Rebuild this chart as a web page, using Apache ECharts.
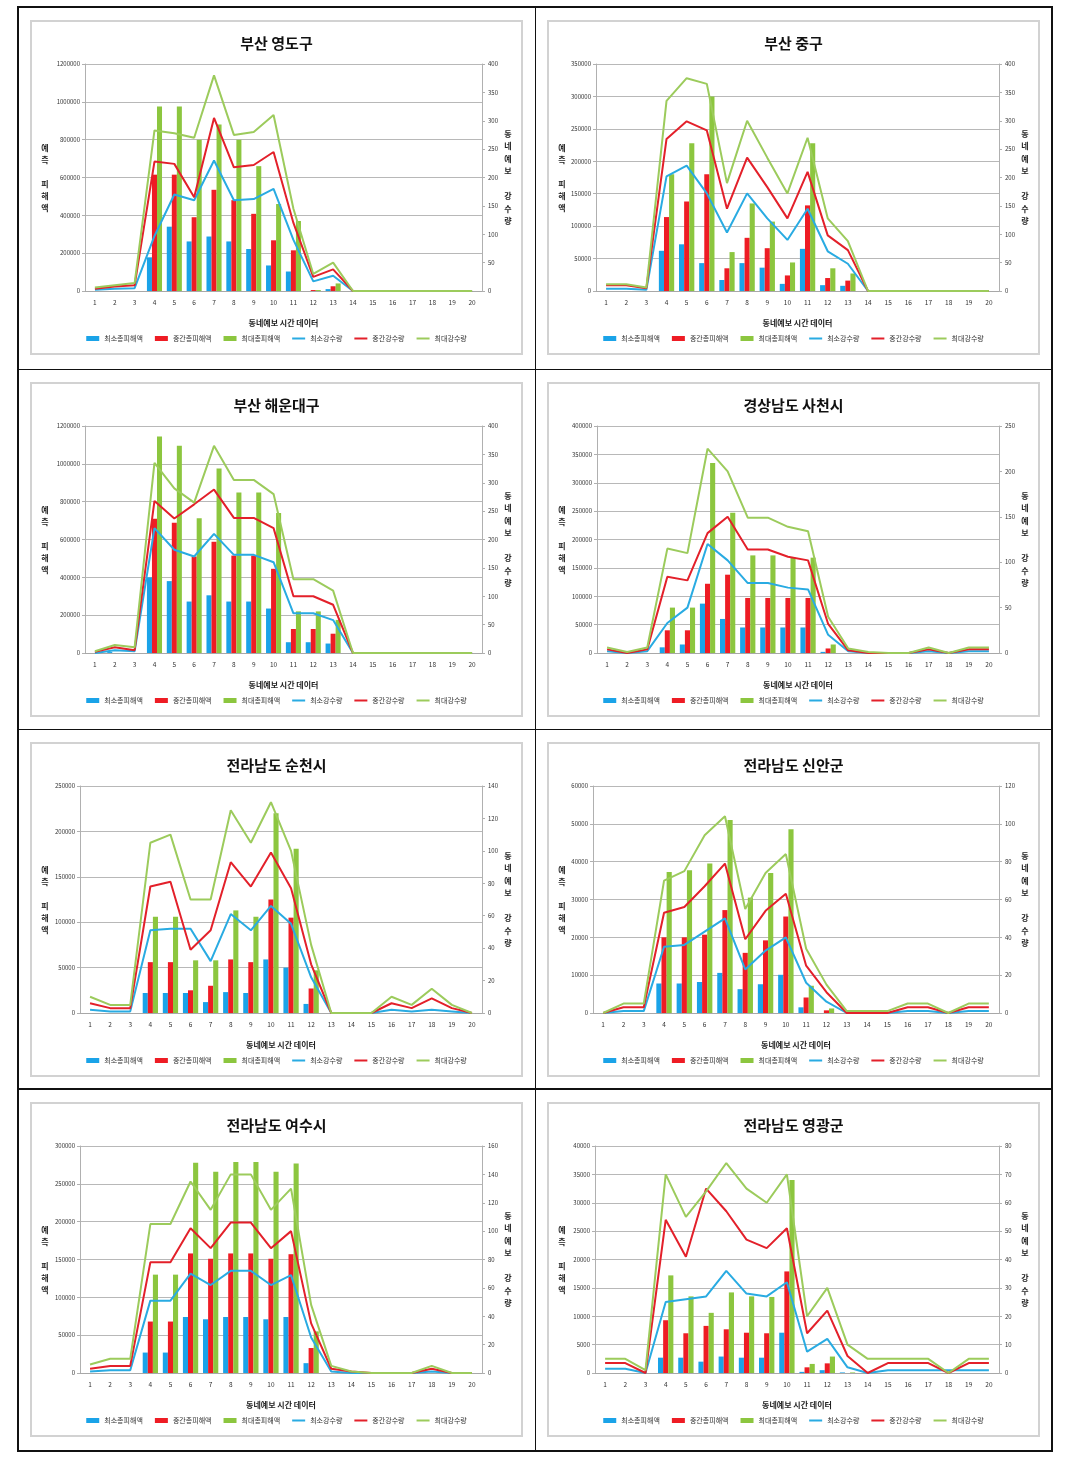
<!DOCTYPE html>
<html>
<head>
<meta charset="utf-8">
<script src="https://cdn.jsdelivr.net/npm/echarts/dist/echarts.min.js"></script>
<style>
  html, body { margin: 0; padding: 0; background: #fff; }
  body { width: 1070px; height: 1464px; position: relative; overflow: hidden; font-family: 'Noto Sans CJK KR', sans-serif; }
  .line { position: absolute; background: #111; }
  .frame { position: absolute; box-sizing: border-box; border: 2px solid #d2d2d2; }
  .chart { position: absolute; }
</style>
</head>
<body>
<div class="line" style="left:17px;top:6px;width:1036px;height:1.5px"></div>
<div class="line" style="left:17px;top:1450px;width:1036px;height:1.5px"></div>
<div class="line" style="left:17px;top:6px;width:1.5px;height:1445px"></div>
<div class="line" style="left:1051px;top:6px;width:1.5px;height:1445px"></div>
<div class="line" style="left:534.5px;top:6px;width:1.5px;height:1445px"></div>
<div class="line" style="left:17px;top:368.5px;width:1036px;height:1.5px"></div>
<div class="line" style="left:17px;top:728.5px;width:1036px;height:1.5px"></div>
<div class="line" style="left:17px;top:1088px;width:1036px;height:1.5px"></div>
<script>
// ---------- shared labels ----------
const categories = ['1','2','3','4','5','6','7','8','9','10','11','12','13','14','15','16','17','18','19','20'];
const seriesNames = ['최소총피해액','중간총피해액','최대총피해액','최소강수량','중간강수량','최대강수량'];
const xAxisTitle = '동네예보 시간 데이터';
const leftAxisTitle = '예\n측\n\n피\n해\n액';
const rightAxisTitle = '동\n네\n예\n보\n\n강\n수\n량';

// ---------- 부산 영도구 ----------
const yeongdoMinDamage = [0,0,0,178000,340000,262000,288000,262000,222000,135000,103000,0,10000,0,0,0,0,0,0,0];
const yeongdoMidDamage = [0,0,0,615000,615000,390000,535000,480000,408000,268000,215000,5000,25000,0,0,0,0,0,0,0];
const yeongdoMaxDamage = [0,0,0,975000,975000,800000,880000,800000,660000,460000,370000,5000,40000,0,0,0,0,0,0,0];
const yeongdoMinRain = [2,4,5,97,170,160,230,160,162,180,90,17,27,0,0,0,0,0,0,0];
const yeongdoMidRain = [4,8,10,228,224,165,305,218,222,245,120,25,38,0,0,0,0,0,0,0];
const yeongdoMaxRain = [6,10,14,283,278,270,380,275,280,310,145,30,50,0,0,0,0,0,0,0];

// ---------- 부산 중구 ----------
const jungguMinDamage = [0,0,0,62000,72000,43000,17000,43000,36000,11000,65000,9000,8000,0,0,0,0,0,0,0];
const jungguMidDamage = [0,0,0,114000,138000,180000,35000,82000,66000,24000,132000,20000,16000,0,0,0,0,0,0,0];
const jungguMaxDamage = [0,0,0,180000,228000,300000,60000,135000,107000,44000,228000,35000,27000,0,0,0,0,0,0,0];
const jungguMinRain = [4,4,2,202,221,172,103,172,128,90,145,70,48,0,0,0,0,0,0,0];
const jungguMidRain = [10,10,5,268,299,283,145,235,183,128,210,98,72,0,0,0,0,0,0,0];
const jungguMaxRain = [12,12,6,335,375,365,190,300,235,172,270,128,88,0,0,0,0,0,0,0];

// ---------- 부산 해운대구 ----------
const haeundaeMinDamage = [0,5000,0,400000,380000,272000,305000,272000,272000,235000,57000,57000,50000,0,0,0,0,0,0,0];
const haeundaeMidDamage = [0,0,0,710000,688000,510000,588000,515000,515000,445000,127000,127000,102000,0,0,0,0,0,0,0];
const haeundaeMaxDamage = [0,0,0,1145000,1095000,712000,975000,848000,848000,740000,220000,220000,175000,0,0,0,0,0,0,0];
const haeundaeMinRain = [0,5,3,220,182,170,210,173,173,160,70,70,58,0,0,0,0,0,0,0];
const haeundaeMidRain = [2,10,5,268,237,262,288,238,238,220,100,100,85,0,0,0,0,0,0,0];
const haeundaeMaxRain = [3,14,10,335,290,265,365,305,305,280,130,130,110,0,0,0,0,0,0,0];

// ---------- 경상남도 사천시 ----------
const sacheonMinDamage = [0,0,0,10000,15000,87000,60000,45000,45000,45000,45000,2000,0,0,0,0,0,0,0,0];
const sacheonMidDamage = [0,0,0,40000,40000,122000,138000,97000,97000,97000,97000,8000,0,0,0,0,0,0,0,0];
const sacheonMaxDamage = [0,0,0,80000,80000,335000,247000,172000,172000,168000,168000,15000,0,0,0,0,0,0,0,0];
const sacheonMinRain = [2,0,2,33,50,120,102,77,77,72,70,20,2,0,0,0,2,0,2,2];
const sacheonMidRain = [4,0,4,84,80,132,150,114,114,106,102,32,3,0,0,0,4,0,4,4];
const sacheonMaxRain = [6,1,6,115,110,225,200,149,149,139,134,40,5,1,0,0,6,0,6,6];

// ---------- 전라남도 순천시 ----------
const suncheonMinDamage = [0,0,0,22000,22000,22000,12000,23000,22000,59000,50000,10000,0,0,0,0,0,0,0,0];
const suncheonMidDamage = [0,0,0,56000,56000,25000,30000,59000,56000,125000,105000,27000,0,0,0,0,0,0,0,0];
const suncheonMaxDamage = [0,0,0,106000,106000,58000,58000,113000,106000,220000,181000,47000,0,0,0,0,0,0,0,0];
const suncheonMinRain = [2,1,1,51,52,52,32,61,51,66,55,22,0,0,0,2,1,2,1,0];
const suncheonMidRain = [6,3,3,78,81,39,51,93,78,99,77,30,0,0,0,6,3,9,3,0];
const suncheonMaxRain = [10,5,5,105,110,70,70,125,105,130,100,42,0,0,0,10,5,15,5,0];

// ---------- 전라남도 신안군 ----------
const sinanMinDamage = [0,0,0,7800,7800,8200,10600,6300,7600,10100,1500,0,0,0,0,0,0,0,0,0];
const sinanMidDamage = [0,0,0,20000,20000,20700,27200,15900,19200,25500,4100,700,0,0,0,0,0,0,0,0];
const sinanMaxDamage = [0,0,0,37300,37700,39500,51000,30500,37000,48600,7200,1200,0,0,0,0,0,0,0,0];
const sinanMinRain = [0,1,1,35,36,43,50,23,33,40,16,6,0,0,0,1,1,0,1,1];
const sinanMidRain = [0,3,3,53,56,67,79,39,54,63,25,11,0,0,0,3,3,0,3,3];
const sinanMaxRain = [0,5,5,70,75,94,104,55,74,84,34,15,1,1,1,5,5,0,5,5];

// ---------- 전라남도 여수시 ----------
const yeosuMinDamage = [0,0,0,27000,27000,74000,71000,74000,74000,71000,74000,13000,0,0,0,0,0,0,0,0];
const yeosuMidDamage = [0,0,0,68000,68000,158000,151000,158000,158000,151000,157000,33000,0,0,0,0,0,0,0,0];
const yeosuMaxDamage = [0,0,0,130000,130000,278000,266000,279000,279000,266000,277000,55000,0,0,0,0,0,0,0,0];
const yeosuMinRain = [1,2,2,51,51,70,62,72,72,62,69,25,1,0,0,0,0,1,0,0];
const yeosuMidRain = [3,5,5,78,78,102,88,106,106,88,100,35,3,1,0,0,0,3,0,0];
const yeosuMaxRain = [6,10,10,105,105,135,115,140,140,115,130,48,5,1,0,0,0,5,0,0];

// ---------- 전라남도 영광군 ----------
const yeonggwangMinDamage = [0,0,0,2700,2700,2000,2900,2700,2700,7100,200,500,100,0,0,0,0,0,0,0];
const yeonggwangMidDamage = [0,0,0,9300,7000,8300,7700,7100,7000,17900,1000,1700,0,0,0,0,0,0,0,0];
const yeonggwangMaxDamage = [0,0,0,17200,13500,10600,14200,13500,13400,34000,1600,2900,100,0,0,0,0,0,0,0];
const yeonggwangMinRain = [1.5,1.5,0,25,26,27,36,28,27,32,7.5,12,2,0,1,1,1,1,1,1];
const yeonggwangMidRain = [3.5,3.5,0,54,41,65,57,47,44,51,14,22,6,0,3.5,3.5,3.5,0,3.5,3.5];
const yeonggwangMaxRain = [5,5,1,70,55,64,74,65,60,70,20,30,10,5,5,5,5,0,5,5];

// ---------- panel list (built from the arrays above) ----------
const panels = [
  { title: '부산 영도구', lMax: 1200000, lInt: 200000, rMax: 400, rInt: 50, gl: 55,
    data: [yeongdoMinDamage, yeongdoMidDamage, yeongdoMaxDamage, yeongdoMinRain, yeongdoMidRain, yeongdoMaxRain] },
  { title: '부산 중구', lMax: 350000, lInt: 50000, rMax: 400, rInt: 50, gl: 49,
    data: [jungguMinDamage, jungguMidDamage, jungguMaxDamage, jungguMinRain, jungguMidRain, jungguMaxRain] },
  { title: '부산 해운대구', lMax: 1200000, lInt: 200000, rMax: 400, rInt: 50, gl: 55,
    data: [haeundaeMinDamage, haeundaeMidDamage, haeundaeMaxDamage, haeundaeMinRain, haeundaeMidRain, haeundaeMaxRain] },
  { title: '경상남도 사천시', lMax: 400000, lInt: 50000, rMax: 250, rInt: 50, gl: 50,
    data: [sacheonMinDamage, sacheonMidDamage, sacheonMaxDamage, sacheonMinRain, sacheonMidRain, sacheonMaxRain] },
  { title: '전라남도 순천시', lMax: 250000, lInt: 50000, rMax: 140, rInt: 20, gl: 50,
    data: [suncheonMinDamage, suncheonMidDamage, suncheonMaxDamage, suncheonMinRain, suncheonMidRain, suncheonMaxRain] },
  { title: '전라남도 신안군', lMax: 60000, lInt: 10000, rMax: 120, rInt: 20, gl: 46,
    data: [sinanMinDamage, sinanMidDamage, sinanMaxDamage, sinanMinRain, sinanMidRain, sinanMaxRain] },
  { title: '전라남도 여수시', lMax: 300000, lInt: 50000, rMax: 160, rInt: 20, gl: 50,
    data: [yeosuMinDamage, yeosuMidDamage, yeosuMaxDamage, yeosuMinRain, yeosuMidRain, yeosuMaxRain] },
  { title: '전라남도 영광군', lMax: 40000, lInt: 5000, rMax: 80, rInt: 10, gl: 48,
    data: [yeonggwangMinDamage, yeonggwangMidDamage, yeonggwangMaxDamage, yeonggwangMinRain, yeonggwangMidRain, yeonggwangMaxRain] }
];

const barColors = ['#1aa3e8', '#ee1c24', '#8cc63f'];
const lineColors = ['#29abe2', '#e3202a', '#9ccb5c'];
const FONT = "'Noto Sans CJK KR', 'Noto Sans', sans-serif";
const colLeft = [30, 547];
const rowTop = [20, 382, 742, 1102];
const W = 493, H = 335;
const GRID_TOP = 44, GRID_BOTTOM = 64, GRID_RIGHT = 41;
const LINE_ICON = 'path://M0,0H13V2H0Z';
const plainNumber = v => String(v);

panels.forEach((p, i) => {
  const x = colLeft[i % 2], y = rowTop[Math.floor(i / 2)];
  const frame = document.createElement('div');
  frame.className = 'frame';
  frame.style.cssText = `left:${x}px;top:${y}px;width:${W}px;height:${H}px;`;
  document.body.appendChild(frame);
  const el = document.createElement('div');
  el.className = 'chart';
  el.style.cssText = `left:${x}px;top:${y}px;width:${W}px;height:${H}px;`;
  document.body.appendChild(el);
  const chart = echarts.init(el, null, { renderer: 'canvas' });

  const plotMid = GRID_TOP + (H - GRID_TOP - GRID_BOTTOM) / 2;
  const series = [];
  for (let k = 0; k < 3; k++) {
    series.push({
      name: seriesNames[k], type: 'bar', yAxisIndex: 0, data: p.data[k],
      barGap: '0%', barCategoryGap: '24%',
      itemStyle: { color: barColors[k] }, z: 2
    });
  }
  for (let k = 0; k < 3; k++) {
    series.push({
      name: seriesNames[k + 3], type: 'line', yAxisIndex: 1, data: p.data[k + 3],
      symbol: 'none', showSymbol: false,
      lineStyle: { color: lineColors[k], width: 2 }, itemStyle: { color: lineColors[k] },
      z: 5 + k
    });
  }

  chart.setOption({
    animation: false,
    backgroundColor: 'transparent',
    textStyle: { fontFamily: FONT },
    title: {
      text: p.title, left: 'center', top: 11,
      textStyle: { fontFamily: FONT, fontSize: 15, fontWeight: 'bold', color: '#111' }
    },
    legend: {
      bottom: 8, left: 'center', itemWidth: 13, itemHeight: 5, itemGap: 12,
      symbolKeepAspect: true,
      textStyle: { fontFamily: FONT, fontSize: 7, color: '#333' },
      data: [
        { name: seriesNames[0], icon: 'rect' },
        { name: seriesNames[1], icon: 'rect' },
        { name: seriesNames[2], icon: 'rect' },
        { name: seriesNames[3], icon: LINE_ICON, itemStyle: { color: lineColors[0] } },
        { name: seriesNames[4], icon: LINE_ICON, itemStyle: { color: lineColors[1] } },
        { name: seriesNames[5], icon: LINE_ICON, itemStyle: { color: lineColors[2] } }
      ]
    },
    grid: { left: p.gl, right: GRID_RIGHT, top: GRID_TOP, bottom: GRID_BOTTOM, containLabel: false },
    xAxis: {
      type: 'category', data: categories, boundaryGap: true,
      name: xAxisTitle, nameLocation: 'middle', nameGap: 28,
      nameTextStyle: { fontFamily: FONT, fontSize: 8, fontWeight: 'bold', color: '#222' },
      axisLine: { lineStyle: { color: '#a8a8a8', width: 1 } },
      axisTick: { show: false },
      axisLabel: { fontSize: 6.5, color: '#333', margin: 8, interval: 0 }
    },
    yAxis: [
      {
        type: 'value', min: 0, max: p.lMax, interval: p.lInt, position: 'left',
        axisLine: { show: true, lineStyle: { color: '#b0b0b0' } },
        axisTick: { show: true, length: 3, lineStyle: { color: '#b0b0b0' } },
        axisLabel: { fontSize: 6, color: '#333', margin: 5, formatter: plainNumber },
        splitLine: { show: true, lineStyle: { color: '#b8b8b8', width: 1 } }
      },
      {
        type: 'value', min: 0, max: p.rMax, interval: p.rInt, position: 'right',
        axisLine: { show: true, lineStyle: { color: '#b0b0b0' } },
        axisTick: { show: true, length: 3, lineStyle: { color: '#b0b0b0' } },
        axisLabel: { fontSize: 6, color: '#333', margin: 6, formatter: plainNumber },
        splitLine: { show: false }
      }
    ],
    graphic: [
      {
        type: 'text', x: 15, y: plotMid - 36,
        style: { text: leftAxisTitle, font: `bold 8px ${FONT}`, fill: '#222', lineHeight: 12, align: 'center', verticalAlign: 'top' }
      },
      {
        type: 'text', x: 478, y: plotMid - 50,
        style: { text: rightAxisTitle, font: `bold 8px ${FONT}`, fill: '#222', lineHeight: 12.5, align: 'center', verticalAlign: 'top' }
      }
    ],
    series: series
  });
});
</script>
</body>
</html>
